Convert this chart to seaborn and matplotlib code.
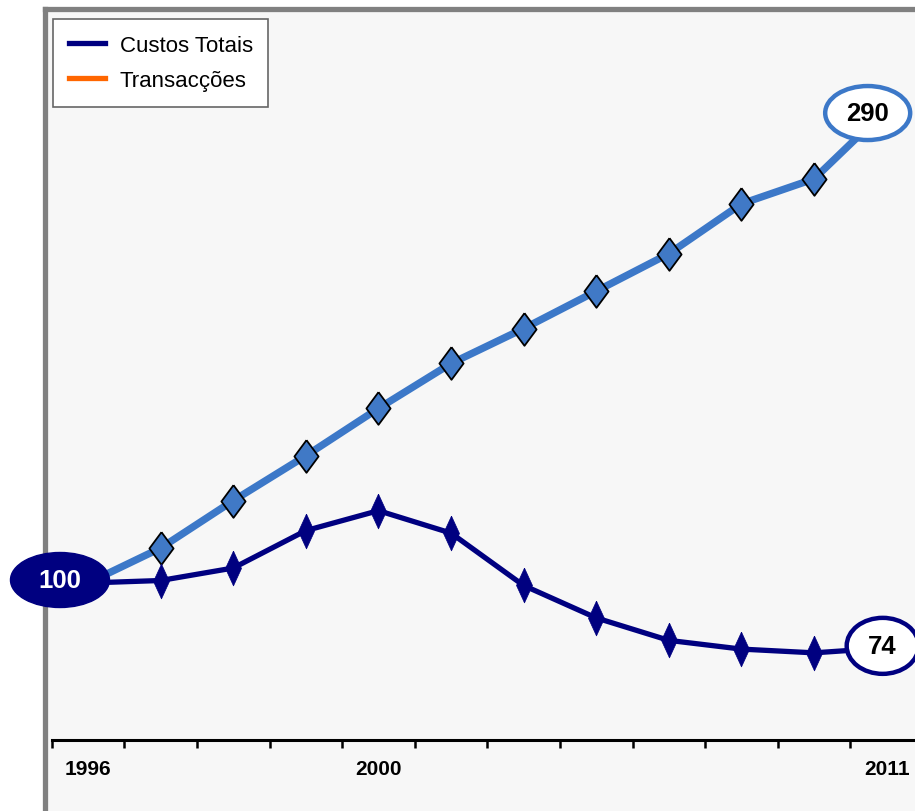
import numpy as np
import pandas as pd
import matplotlib
matplotlib.use("Agg")
import matplotlib.pyplot as plt
import seaborn as sns
from matplotlib.path import Path
from matplotlib.lines import Line2D

# ---- data ----
years = ["1996", "1997", "1998", "1999", "2000", "2001", "2002", "2003",
         "2004", "2005", "2006", "2011"]
custos_totais = [100, 101, 106, 121, 129, 120, 99, 86, 77, 73.5, 72, 74]
transaccoes = [100, 114, 133, 151, 170, 188, 202, 217, 232, 252, 262, 290]
shown_years = ["1996", "2000", "2011"]
legend_labels = ["Custos Totais", "Transacções"]
legend_colors = ["#000080", "#FF6600"]

NAVY = "#000080"
LBLUE = "#3c78c8"

plt.rcParams["font.family"] = ["Liberation Sans", "DejaVu Sans"]

fig = plt.figure(figsize=(9.15, 8.12), dpi=100)
ax = fig.add_axes([45 / 915, 0, 870 / 915, 802 / 812])
ax.set_facecolor("#f7f7f7")

df = pd.DataFrame({"Ano": years, "Custos": custos_totais, "Trans": transaccoes})

wide_diamond = [(0, 1), (0.74, 0), (0, -1), (-0.74, 0), (0, 1)]
thin_diamond = [(0, 1), (0.46, 0), (0, -1), (-0.46, 0), (0, 1)]

sns.lineplot(data=df, x="Ano", y="Trans", ax=ax, color=LBLUE, lw=5.3,
             marker=wide_diamond, ms=23.5, mfc="#4079c6", mec="black",
             mew=1.3, legend=False, sort=False)
sns.lineplot(data=df, x="Ano", y="Custos", ax=ax, color=NAVY, lw=3.8,
             marker=thin_diamond, ms=25, mfc=NAVY, mec=NAVY,
             mew=0.5, legend=False, sort=False)

ax.set_xlabel("")
ax.set_ylabel("")
n = len(years)
ax.set_xlim(-0.592, 11.39)
ax.set_ylim(8.6, 330.1)
ax.set_yticks([])

# spines first (set_position resets ticks)
for s in ["left", "top"]:
    ax.spines[s].set_color("#808080")
    ax.spines[s].set_linewidth(3.8)
ax.spines["right"].set_visible(False)
ax.spines["bottom"].set_position(("data", 37.1))
ax.spines["bottom"].set_color("black")
ax.spines["bottom"].set_linewidth(2.2)
ax.spines["bottom"].set_bounds(-0.5, n - 0.5)

ax.tick_params(axis="x", which="major", length=0, pad=13.5, bottom=True,
               labelsize=15, labelcolor="black")
ax.tick_params(axis="x", which="minor", length=6, width=1.8, color="black",
               direction="out", bottom=True)
ax.set_xticks(np.arange(-0.5, n - 1, 1.0), minor=True)
ax.set_xticks(np.arange(n), labels=[y if y in shown_years else "" for y in years],
              fontweight="bold", fontsize=15, color="black")


def ellipse_style(rx, ry):
    def style(x0, y0, width, height, mutation_size):
        cx, cy = x0 + width / 2, y0 + height / 2
        c = Path.unit_circle()
        return Path(c.vertices * [rx, ry] + [cx, cy], c.codes)
    return style


ax.annotate(str(custos_totais[0]), xy=(0, custos_totais[0]), xytext=(-28, 3),
            textcoords="offset pixels", ha="center", va="center",
            fontsize=18.5, fontweight="bold", color="white", zorder=6,
            bbox=dict(boxstyle=ellipse_style(49.5, 27.5), fc=NAVY, ec=NAVY, lw=1))
ax.annotate(str(transaccoes[-1]), xy=(n - 1, transaccoes[-1]), xytext=(-19, -4),
            textcoords="offset pixels", ha="center", va="center",
            fontsize=18.5, fontweight="bold", color="black", zorder=6,
            bbox=dict(boxstyle=ellipse_style(42.5, 27), fc="white", ec=LBLUE, lw=3.2))
ax.annotate(str(custos_totais[-1]), xy=(n - 1, custos_totais[-1]), xytext=(-4, 2),
            textcoords="offset pixels", ha="center", va="center",
            fontsize=18.5, fontweight="bold", color="black", zorder=6,
            bbox=dict(boxstyle=ellipse_style(36, 28), fc="white", ec=NAVY, lw=3.2))

handles = [Line2D([], [], color=c, lw=3.8) for c in legend_colors]
leg = ax.legend(handles, legend_labels, loc="upper left",
                bbox_to_anchor=(8 / 870, 1 - 10 / 802), borderaxespad=0,
                fontsize=16, frameon=True, fancybox=False, edgecolor="#666666",
                facecolor="white", framealpha=1, handlelength=1.65,
                handletextpad=0.65, borderpad=0.7, labelspacing=0.65)
leg.get_frame().set_linewidth(1.2)
leg.set_zorder(7)

fig.savefig("out.png", dpi=100)
